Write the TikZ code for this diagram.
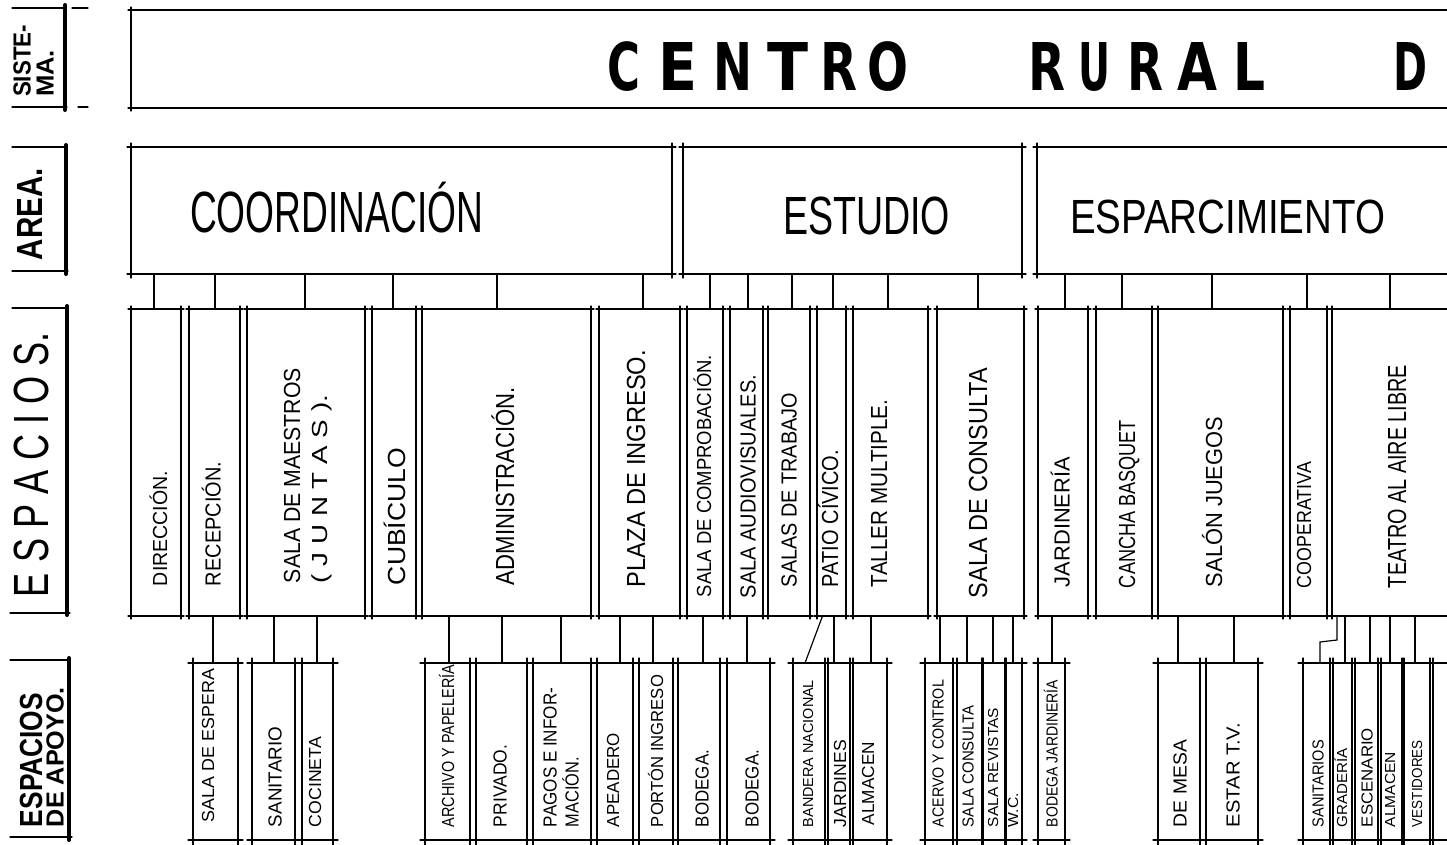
\documentclass[tikz,border=0pt]{standalone}
\usepackage{fontspec}
\setmainfont{Liberation Sans}
\newfontfamily\hdrfont{DejaVu Sans}
\newcommand\fit[3]{\resizebox{#1pt}{#2pt}{\smash{#3}\vphantom{E}}}
\newcommand\bx[5]{\node[box, minimum width={(#3-#2)*1pt}, minimum height={(#5-#4)*1pt}] (#1) at ({(#2+#3)/2},{(#4+#5)/2}) {};}
\newcommand\xb[2]{%
  \draw ([xshift=-#2pt]#1.north west) -- ([xshift=#2pt]#1.north east);
  \draw ([xshift=-#2pt]#1.south west) -- ([xshift=#2pt]#1.south east);
  \draw ([yshift=#2pt]#1.north west) -- ([yshift=-#2pt]#1.south west);
  \draw ([yshift=#2pt]#1.north east) -- ([yshift=-#2pt]#1.south east);}
\newcommand\cn[3]{\coordinate (cx) at (#3,0); \draw (#1 -| cx) -- (#2 -| cx);}
\begin{document}
\begin{tikzpicture}[x=1pt,y=-1pt,line width=1.2pt,line cap=round,
  every node/.style={inner sep=0pt,outer sep=0pt},
  box/.style={rectangle,draw=none},
  vlab/.style={rotate=90,anchor=west},
  hlab/.style={anchor=west},
  rowlab/.style={vlab,font=\bfseries},
  heavy/.style={line width=4pt}]
\useasboundingbox (0,0) rectangle (1447,845);
\clip (0,0) rectangle (1447,845);
\fill[white] (0,0) rectangle (1447,845);

% ---------- left row labels ----------
\draw (12,8) -- (65,8); \draw (12,107) -- (67,107); \draw[heavy] (65,5) -- (65,110);
\draw (72,8) -- (88,8); \draw (78,107) -- (88,107);
\node[rowlab] (lsis1) at (22,97) {\fit{72}{17}{SISTE-}};
\node[rowlab] (lsis2) at (45,97) {\fit{47}{17}{MA.}};
\draw (12,147) -- (66,147); \draw (12,271) -- (68,271); \draw[heavy] (66,145) -- (66,274);
\node[rowlab] (lare) at (30,260) {\fit{92}{25}{AREA.}};
\draw (12,308) -- (68,308); \draw (10,613) -- (70,613); \draw[heavy] (67,306) -- (67,615);
\node[vlab] (lesp) at (31,597) {\fit{265}{34}{E S P A C I O S.}};
\draw (10,660) -- (70,660); \draw (10,837) -- (72,837); \draw[heavy] (69,658) -- (69,840);
\node[rowlab] (lapo1) at (31,827) {\fit{134}{22}{ESPACIOS}};
\node[rowlab] (lapo2) at (55,827) {\fit{140}{17}{DE APOYO.}};

% ---------- system header ----------
\bx{sys}{131}{1480}{10}{108}
\xb{sys}{3}
\foreach \c/\a/\w [count=\k] in {C/607/33,E/658/39,N/713/39,T/767/41,R/820/37,O/867/41,
  R/1028/37,U/1078/32,R/1127/36,A/1177/40,L/1233/32,D/1393/34}
  \node[hlab,font=\hdrfont\bfseries] (h\k) at (\a,66) {\fit{\w}{48}{\c}};

% ---------- areas ----------
\bx{coord}{131}{672}{147}{274}
\bx{estu}{683}{1022}{147}{274}
\bx{espa}{1037}{1480}{147}{274}
\xb{coord}{4} \xb{estu}{4} \xb{espa}{4}
\node[hlab] (acoord) at (190,212) {\fit{293}{40}{COORDINACIÓN}};
\node[hlab] (aestu) at (783,216) {\fit{167}{37}{ESTUDIO}};
\node[hlab] (aespa) at (1070,217) {\fit{315}{33}{ESPARCIMIENTO}};

% ---------- spaces ----------
\foreach \nm/\xa/\xbb in {s1/131/181,s2/189/240,s3/247/365,s4/372/416,s5/422/591,s6/599/680,
  s7/687/723,s8/730/763,s9/768/810,s10/817/846,s11/853/928,s12/937/1024,s13/1038/1088,
  s14/1096/1152,s15/1158/1283,s16/1290/1327,s17/1332/1480}
  {\bx{\nm}{\xa}{\xbb}{309}{616}}
\foreach \i in {1,...,17} {\xb{s\i}{3}}

\foreach \nm/\px/\py/\lw/\hh/\tx in {
  t1/160/586/115/14/DIRECCIÓN.,
  t2/213/586/124/15/RECEPCIÓN.,
  t3a/292/583/215/16/SALA DE MAESTROS,
  t3b/320/583/188/15/( J U N T A S ).,
  t4/397/585/137/17/CUBÍCULO,
  t5/505/585/198/18/ADMINISTRACIÓN.,
  t6/636/587/237/18/PLAZA DE INGRESO.,
  t7/704/597/242/14/SALA DE COMPROBACIÓN.,
  t8/748/598/223/15/SALA AUDIOVISUALES.,
  t9/789/587/194/15/SALAS DE TRABAJO,
  t10/830/587/137/16/PATIO CÍVICO.,
  t11/879/587/187/16/TALLER MULTIPLE.,
  t12/978/598/230/18/SALA DE CONSULTA,
  t13/1062/587/130/15/JARDINERÍA,
  t14/1127/588/168/16/CANCHA BASQUET,
  t15/1214/587/170/16/SALÓN JUEGOS,
  t16/1304/588/126/14/COOPERATIVA,
  t17/1397/588/223/18/TEATRO AL AIRE LIBRE}
  {\node[vlab] (\nm) at (\px,\py) {\fit{\lw}{\hh}{\tx}};}

% ---------- support spaces ----------
\foreach \nm/\xa/\xbb in {ap1/193/238,ap2/252/295,ap3/302/333,ap4/425/470,ap5/476/527,
  ap6/533/591,ap7/597/633,ap8/639/673,ap9/678/720,ap10/727/770,ap11/793/825,ap12/828/850,
  ap13/853/887,ap14/925/953,ap15/957/982,ap16/983/1005,ap17/1006/1022,ap18/1038/1065,
  ap19/1158/1200,ap20/1206/1258,ap21/1303/1330,ap22/1333/1352,ap23/1355/1378,
  ap24/1381/1402,ap25/1404/1430,ap26/1433/1480}
  {\bx{\nm}{\xa}{\xbb}{663}{840}}
\foreach \i in {1,...,26} {\xb{ap\i}{5}}

\foreach \nm/\px/\py/\lw/\hh/\tx in {
  u1/208/822/153/12/SALA  DE ESPERA,
  u2/275/827/100/13/SANITARIO,
  u3/315/827/90/12/COCINETA,
  u4/448/827/162/12/ARCHIVO Y PAPELERÍA,
  u5/500/827/82/13/PRIVADO.,
  u6a/550/827/139/13/PAGOS E INFOR-,
  u6b/572/827/70/13/MACIÓN.,
  u7/613/827/94/12/APEADERO,
  u8/657/827/152/12/PORTÓN INGRESO,
  u9/702/827/77/13/BODEGA.,
  u10/752/827/77/13/BODEGA.,
  u11/808/827/147/10/BANDERA NACIONAL,
  u12/840/827/87/12/JARDINES,
  u13/868/825/83/12/ALMACEN,
  u14/938/827/147/11/ACERVO Y CONTROL,
  u15/968/827/122/11/SALA CONSULTA,
  u16/993/827/119/10/SALA REVISTAS,
  u17/1013/827/34/10/W.C.,
  u18/1052/827/147/11/BODEGA JARDINERÍA,
  u19/1180/827/87/13/DE MESA,
  u20/1233/827/104/13/ESTAR T.V.,
  u21/1318/827/87/11/SANITARIOS,
  u22/1342/827/79/10/GRADERÍA,
  u23/1367/827/99/11/ESCENARIO,
  u24/1390/827/75/10/ALMACEN,
  u25/1417/827/87/10/VESTIDORES}
  {\node[vlab] (\nm) at (\px,\py) {\fit{\lw}{\hh}{\tx}};}

% ---------- connectors area -> spaces ----------
\cn{s1.north}{coord.south}{154}
\cn{s2.north}{coord.south}{215}
\cn{s3.north}{coord.south}{305}
\cn{s4.north}{coord.south}{393}
\cn{s5.north}{coord.south}{497}
\cn{s6.north}{coord.south}{643}
\cn{s7.north}{estu.south}{710}
\cn{s8.north}{estu.south}{748}
\cn{s9.north}{estu.south}{792}
\cn{s10.north}{estu.south}{833}
\cn{s11.north}{estu.south}{888}
\cn{s12.north}{estu.south}{978}
\cn{s13.north}{espa.south}{1065}
\cn{s14.north}{espa.south}{1122}
\cn{s15.north}{espa.south}{1212}
\cn{s16.north}{espa.south}{1307}
\cn{s17.north}{espa.south}{1390}

% ---------- connectors spaces -> support ----------
\cn{s2.south}{ap1.north}{213}
\cn{s3.south}{ap2.north}{274}
\cn{s3.south}{ap3.north}{317}
\cn{s5.south}{ap4.north}{449}
\cn{s5.south}{ap5.north}{502}
\cn{s5.south}{ap6.north}{561}
\cn{s6.south}{ap7.north}{620}
\cn{s6.south}{ap8.north}{653}
\cn{s7.south}{ap9.north}{703}
\cn{s8.south}{ap10.north}{747}
\draw ([xshift=-9pt]s10.south) -- ([xshift=-4pt]ap11.north);
\cn{s10.south}{ap12.north}{834}
\cn{s11.south}{ap13.north}{871}
\cn{s12.south}{ap14.north}{940}
\cn{s12.south}{ap15.north}{967}
\cn{s12.south}{ap16.north}{993}
\cn{s12.south}{ap17.north}{1013}
\cn{s13.south}{ap18.north}{1052}
\cn{s15.south}{ap19.north}{1178}
\cn{s15.south}{ap20.north}{1234}
\coordinate (j1) at (1337,640);
\coordinate (j2) at (1320,642);
\draw (s17.south -| j1) -- (j1) -- (j2) -- (ap21.north -| j2);
\cn{s17.south}{ap22.north}{1345}
\cn{s17.south}{ap23.north}{1370}
\cn{s17.south}{ap24.north}{1390}
\cn{s17.south}{ap25.north}{1415}
\end{tikzpicture}
\end{document}
